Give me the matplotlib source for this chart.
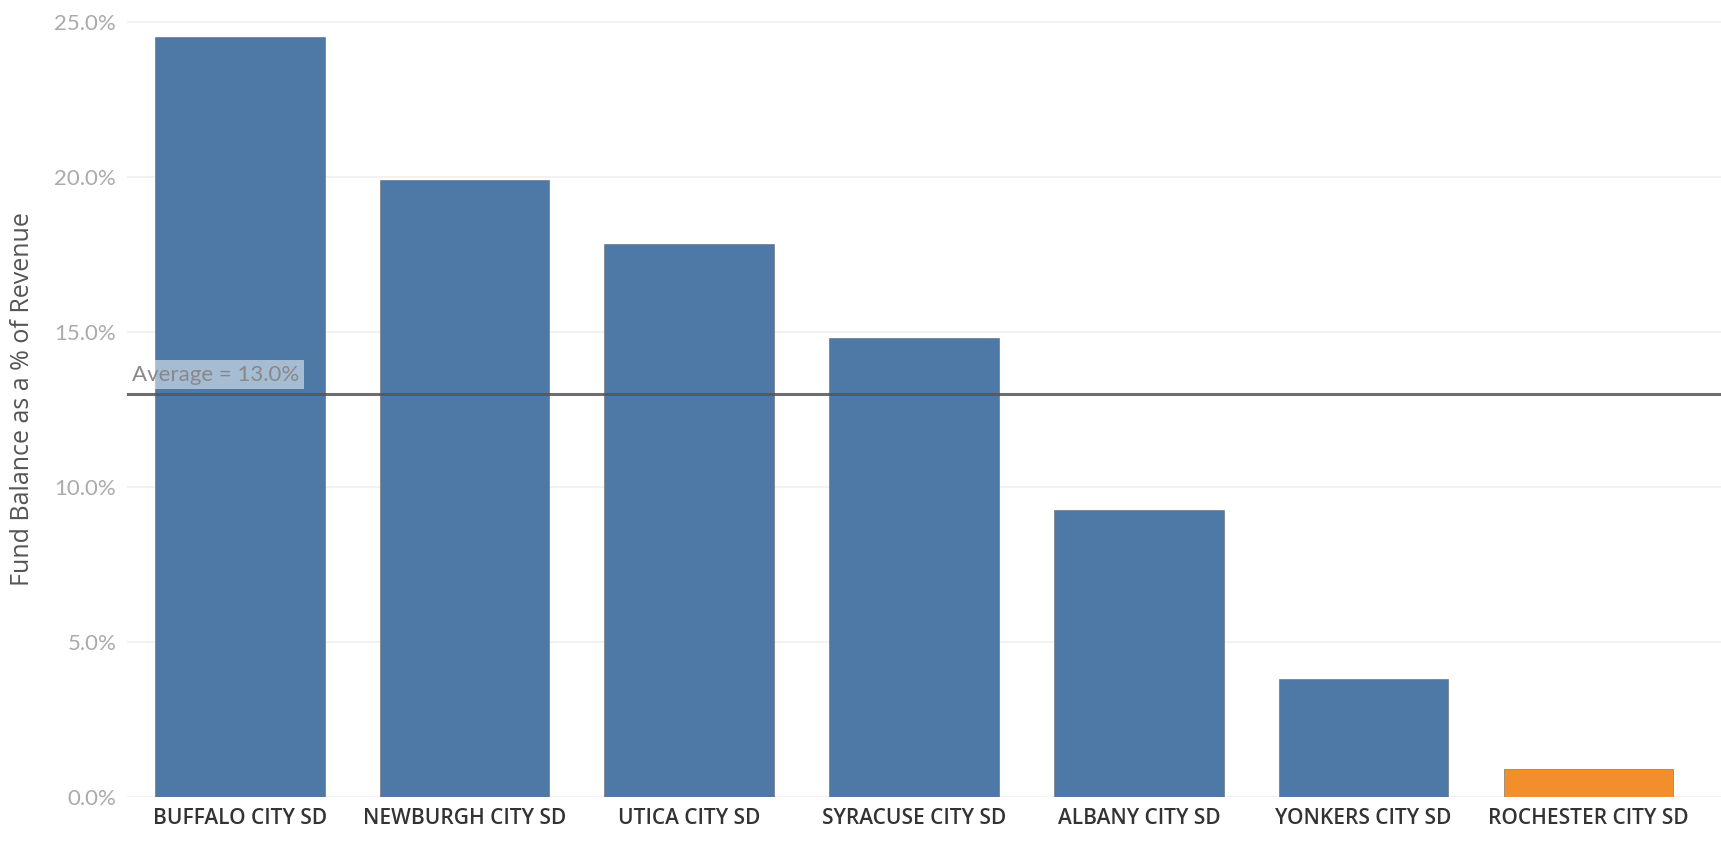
import matplotlib
matplotlib.use('Agg')
import matplotlib.pyplot as plt

districts = ['BUFFALO CITY SD', 'NEWBURGH CITY SD', 'UTICA CITY SD', 'SYRACUSE CITY SD',
             'ALBANY CITY SD', 'YONKERS CITY SD', 'ROCHESTER CITY SD']
fund_pct = [24.5, 19.9, 17.85, 14.8, 9.25, 3.8, 0.9]
average = 13.0
yticks = [0, 5, 10, 15, 20, 25]

colors = ['#4e79a7'] * 6 + ['#f28e2b']

fig = plt.figure(figsize=(17.21, 8.42), dpi=100)
ax = fig.add_axes([0.074, 0.053, 0.926, 0.947])

x = range(len(districts))
ax.bar(x, fund_pct, width=0.755, color=colors, edgecolor='#666666', linewidth=0.4, zorder=2)

ax.axhline(average, color='#555555', linewidth=2.2, alpha=0.85, zorder=3)
ax.text(-0.48, average + 0.3, 'Average = %.1f%%' % average, fontsize=16, color='#888888',
        family='Lato', va='bottom', ha='left', zorder=4,
        bbox=dict(boxstyle='square,pad=0.2', facecolor='white', edgecolor='none', alpha=0.5))

ax.set_xlim(-0.5, 6.59)
ax.set_ylim(0, 25.7)
ax.set_yticks(yticks)
ax.set_yticklabels(['%.1f%%' % t for t in yticks], fontsize=16, color='#aaaaaa', family='Lato')
ax.set_xticks(list(x))
ax.set_xticklabels(districts, fontsize=15, color='#333333', family='Open Sans', fontweight='semibold')
ax.tick_params(axis='both', length=0, pad=8)
ax.grid(axis='y', color='#f0f0f0', linewidth=1.2, zorder=0)
for s in ax.spines.values():
    s.set_visible(False)

ax.set_ylabel('Fund Balance as a % of Revenue', fontsize=18, color='#555555', family='Open Sans',
              labelpad=14)

fig.savefig('out.png', dpi=100)
